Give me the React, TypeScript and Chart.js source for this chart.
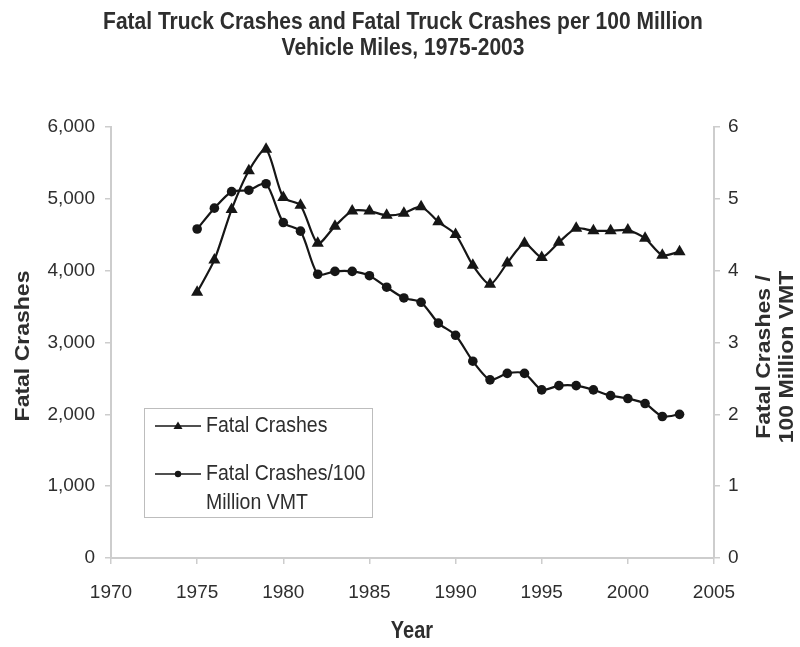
import React, { useEffect, useRef } from "react";
import { Chart, registerables } from "chart.js";

Chart.register(...registerables);

const years = [1975, 1976, 1977, 1978, 1979, 1980, 1981, 1982, 1983, 1984, 1985, 1986, 1987, 1988, 1989, 1990, 1991, 1992, 1993, 1994, 1995, 1996, 1997, 1998, 1999, 2000, 2001, 2002, 2003];
const fatalCrashes = [3700, 4150, 4850, 5390, 5690, 5020, 4910, 4380, 4620, 4830, 4830, 4770, 4800, 4890, 4680, 4505, 4075, 3810, 4105, 4380, 4185, 4395, 4590, 4555, 4555, 4565, 4450, 4215, 4265];
const ratePer100M = [4.58, 4.87, 5.10, 5.12, 5.21, 4.67, 4.55, 3.95, 3.99, 3.99, 3.93, 3.77, 3.62, 3.56, 3.27, 3.10, 2.74, 2.48, 2.57, 2.57, 2.34, 2.40, 2.40, 2.34, 2.26, 2.22, 2.15, 1.97, 2.00];

const titleLines = ["Fatal Truck Crashes and Fatal Truck Crashes per 100 Million", "Vehicle Miles, 1975-2003"];
const xTitle = "Year";
const yTitle = "Fatal Crashes";
const y1TitleLines = ["Fatal Crashes /", "100 Million VMT"];
const legendLabels = ["Fatal Crashes", "Fatal Crashes/100", "Million VMT"];

const FONT = "'Liberation Sans', Arial, Helvetica, sans-serif";
const TEXT = "#2e2e2e";
const INK = "#161616";
const AXIS = "#cdcdcd";
const SY = 1.15;

function stretchedText(ctx: CanvasRenderingContext2D, s: string, x: number, y: number, font: string, align: CanvasTextAlign, rotate = false) {
  ctx.save();
  ctx.translate(x, y);
  ctx.scale(1, SY);
  if (rotate) ctx.rotate(-Math.PI / 2);
  ctx.font = font;
  ctx.fillStyle = TEXT;
  ctx.textAlign = align;
  ctx.textBaseline = "middle";
  ctx.fillText(s, 0, 0);
  ctx.restore();
}

const textPlugin = {
  id: "customText",
  afterDraw(chart: any) {
    const ctx: CanvasRenderingContext2D = chart.ctx;
    const bold = `bold 20px ${FONT}`;
    stretchedText(ctx, titleLines[0], 403, 22, `bold 21px ${FONT}`, "center");
    stretchedText(ctx, titleLines[1], 403, 48, `bold 21px ${FONT}`, "center");
    stretchedText(ctx, xTitle, 412, 632, bold, "center");
    stretchedText(ctx, yTitle, 23, 346, bold, "center", true);
    stretchedText(ctx, y1TitleLines[0], 764, 357, bold, "center", true);
    stretchedText(ctx, y1TitleLines[1], 787, 357, bold, "center", true);

    // legend box
    ctx.save();
    ctx.strokeStyle = "#bdbdbd";
    ctx.lineWidth = 1;
    ctx.strokeRect(144.5, 408.5, 228, 109);
    ctx.strokeStyle = INK;
    ctx.fillStyle = INK;
    ctx.lineWidth = 1.6;
    const rows = [426, 474];
    rows.forEach((ry, i) => {
      ctx.beginPath();
      ctx.moveTo(155, ry);
      ctx.lineTo(201, ry);
      ctx.stroke();
      ctx.beginPath();
      if (i === 0) {
        ctx.moveTo(178, ry - 4.5);
        ctx.lineTo(182.5, ry + 3);
        ctx.lineTo(173.5, ry + 3);
        ctx.closePath();
      } else {
        ctx.arc(178, ry, 3.2, 0, Math.PI * 2);
      }
      ctx.fill();
    });
    ctx.restore();
    const lf = `19.5px ${FONT}`;
    stretchedText(ctx, legendLabels[0], 206, 426, lf, "left");
    stretchedText(ctx, legendLabels[1], 206, 474, lf, "left");
    stretchedText(ctx, legendLabels[2], 206, 503, lf, "left");
  },
};

export default function App() {
  const ref = useRef<HTMLCanvasElement | null>(null);
  useEffect(() => {
    if (!ref.current) return;
    const gridCommon = {
      display: true,
      drawOnChartArea: false,
      drawTicks: true,
      tickLength: 6,
      color: AXIS,
      lineWidth: 1.5,
    };
    const borderCommon = { display: true, color: AXIS, width: 2 };
    const tickFont = { family: FONT, size: 19 };
    const chart = new Chart(ref.current, {
      type: "line",
      data: {
        datasets: [
          {
            label: "Fatal Crashes",
            data: years.map((y, i) => ({ x: y, y: fatalCrashes[i] })),
            yAxisID: "y",
            borderColor: INK,
            backgroundColor: INK,
            borderWidth: 2.2,
            pointStyle: "triangle",
            pointRadius: 7,
            pointBorderWidth: 0,
            tension: 0.25,
          },
          {
            label: "Fatal Crashes/100 Million VMT",
            data: years.map((y, i) => ({ x: y, y: ratePer100M[i] })),
            yAxisID: "y1",
            borderColor: INK,
            backgroundColor: INK,
            borderWidth: 2.2,
            pointStyle: "circle",
            pointRadius: 4.8,
            pointBorderWidth: 0,
            tension: 0.25,
          },
        ],
      },
      options: {
        responsive: false,
        animation: false,
        layout: { padding: { top: 127, left: 0, right: 0, bottom: 0 } },
        plugins: { legend: { display: false }, title: { display: false }, tooltip: { enabled: false } },
        scales: {
          x: {
            type: "linear",
            min: 1970,
            max: 2005,
            grid: gridCommon,
            border: borderCommon,
            ticks: {
              stepSize: 5,
              font: tickFont,
              color: TEXT,
              padding: 17,
              maxRotation: 0,
              callback: (v: any) => String(v),
            },
            afterFit: (s: any) => { s.height = 89; },
          },
          y: {
            position: "left",
            min: 0,
            max: 6000,
            grid: gridCommon,
            border: borderCommon,
            ticks: {
              stepSize: 1000,
              font: tickFont,
              color: TEXT,
              padding: 10,
              callback: (v: any) => Number(v).toLocaleString("en-US"),
            },
            afterFit: (s: any) => { s.width = 111; },
          },
          y1: {
            position: "right",
            min: 0,
            max: 6,
            grid: gridCommon,
            border: borderCommon,
            ticks: {
              stepSize: 1,
              font: tickFont,
              color: TEXT,
              padding: 8,
              callback: (v: any) => String(v),
            },
            afterFit: (s: any) => { s.width = 86; },
          },
        },
      },
      plugins: [textPlugin],
    });
    return () => chart.destroy();
  }, []);
  return (
    <div style={{ position: "fixed", left: 0, top: 0, width: 800, height: 647, background: "#fff" }}>
      <canvas ref={ref} width={800} height={647} style={{ width: 800, height: 647, display: "block" }} />
    </div>
  );
}
